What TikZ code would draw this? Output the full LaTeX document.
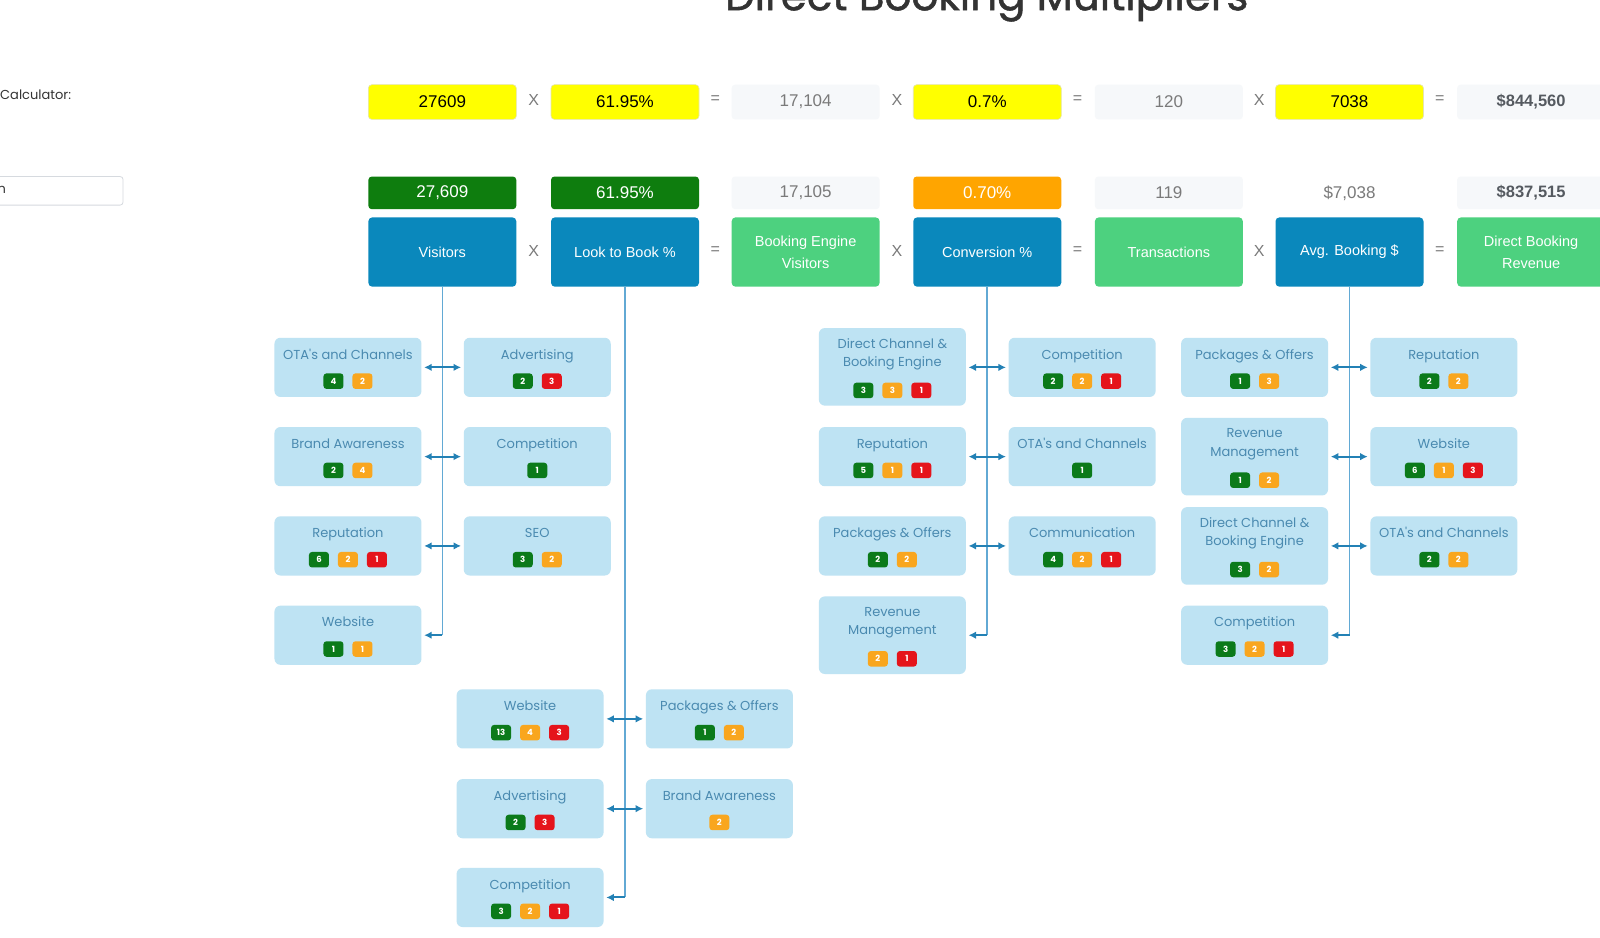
\documentclass[tikz,border=0pt]{standalone}
\usepackage{fontspec}
\setmainfont{Liberation Sans}
\newfontfamily\pop{Poppins}
\newfontfamily\popt[FakeBold=1.2]{Poppins}
\usetikzlibrary{arrows.meta,calc}
\definecolor{boxblue}{HTML}{0A88BC}
\definecolor{boxgreen}{HTML}{4DD17F}
\definecolor{darkgreen}{HTML}{0E7D0E}
\definecolor{orangebox}{HTML}{FFA500}
\definecolor{yellowbox}{HTML}{FFFF00}
\definecolor{yellowline}{HTML}{E4E4B0}
\definecolor{grayfill}{HTML}{F6F8FA}
\definecolor{graytext}{HTML}{7A7A7A}
\definecolor{boldgray}{HTML}{555A60}
\definecolor{lightbox}{HTML}{BEE3F3}
\definecolor{lighttext}{HTML}{4A8AB0}
\definecolor{trunkc}{HTML}{62A9D4}
\definecolor{arrowc}{HTML}{2381B5}
\definecolor{bg}{HTML}{0B7A1A}
\definecolor{bo}{HTML}{F9A61E}
\definecolor{br}{HTML}{E5141B}
\definecolor{titlec}{HTML}{333333}
\definecolor{inputline}{HTML}{D6DADF}
\tikzset{
  topbox/.style={minimum width=148pt, minimum height=34.7pt, rounded corners=3.5pt, inner sep=0pt, font=\fontsize{17}{20}\selectfont},
  yel/.style={topbox, fill=yellowbox, draw=yellowline, line width=0.6pt, text=black},
  grayv/.style={topbox, fill=grayfill, text=graytext},
  grayb/.style={topbox, fill=grayfill, text=boldgray, font=\bfseries\fontsize{16.5}{20}\selectfont},
  rowtwo/.style={minimum height=32.7pt},
  bigbox/.style={minimum width=148pt, minimum height=69.4pt, rounded corners=4pt, inner sep=0pt, text=white, font=\fontsize{14.5}{22.4}\selectfont, align=center},
  signc/.style={text=graytext, inner sep=0pt, font=\fontsize{16}{20}\selectfont},
  sbox/.style={fill=lightbox, rounded corners=6pt, minimum width=147pt, minimum height=59.2pt, inner sep=0pt},
  dbox/.style={sbox, minimum height=77.6pt},
  stitle/.style={text=lighttext, font=\pop\fontsize{13}{18.4}\selectfont, align=center, inner sep=0pt, text height=9.5pt, text depth=2.5pt},
  dtitle/.style={text=lighttext, font=\pop\fontsize{13}{18.4}\selectfont, align=center, inner sep=0pt},
  badge/.style={rounded corners=3pt, minimum width=20pt, minimum height=15.5pt, inner xsep=4.5pt, inner ysep=0pt, text=white, text height=6.2pt, text depth=0pt, font=\pop\bfseries\fontsize{8.5}{9}\selectfont},
  trunkline/.style={draw=trunkc, line width=1.6pt},
  biarrow/.style={draw=arrowc, line width=2pt, {Latex[length=7.5pt,width=7.5pt]}-{Latex[length=7.5pt,width=7.5pt]}, shorten <=2.5pt, shorten >=2.5pt},
  larrow/.style={draw=arrowc, line width=2pt, -{Latex[length=7.5pt,width=7.5pt]}, shorten >=2.5pt},
}
% #1 name, #2 x, #3 y, #4 style, #5 title style, #6 title shift, #7 badge shift, #8 title, #9 list
\newcommand\mkbox[9]{%
  \node[#4] (#1) at (#2,#3) {};
  \node[#5] (#1-t) at ([yshift=#6]#1.center) {#8};
  \def\nbadge{0}%
  \foreach \c/\v [count=\i] in {#9} {\xdef\nbadge{\i}}%
  \foreach \c/\v [count=\i] in {#9} {
    \node[badge, fill=\c] (#1-b\i) at ([xshift={(\i-(\nbadge+1)/2)*29pt}, yshift=#7]#1.center) {\v};
  }
}
% #1 name, #2 x, #3 y, #4 title, #5 list
\newcommand\boxS[5]{\mkbox{#1}{#2}{#3}{sbox}{stitle}{11.8pt}{-13.8pt}{#4}{#5}}
\newcommand\boxD[5]{\mkbox{#1}{#2}{#3}{dbox}{dtitle}{12.6pt}{-23.6pt}{#4}{#5}}
\begin{document}
\begin{tikzpicture}[x=1.02041pt, y=-1.02041pt]
\useasboundingbox (0,0) rectangle (1568,918.26);
\fill[white] (0,0) rectangle (1568,918.26);
\clip (0,0) rectangle (1568,918.26);

% title and left panel
\node[font=\popt\fontsize{42}{50}\selectfont, text=titlec, anchor=base, inner sep=0pt] (title) at (967,10) {Direct Booking Multipliers};
\node[anchor=west, font=\pop\fontsize{13}{16}\selectfont, text=titlec, inner sep=0pt] (calc) at (0,93) {Calculator:};
\node[draw=inputline, fill=white, rounded corners=3pt, minimum width=200pt, minimum height=28.6pt, anchor=east, line width=0.8pt] (inp) at (121,187) {};
\node[anchor=west, font=\pop\fontsize{13}{16}\selectfont, text=titlec, inner sep=0pt] (inptext) at (-2.5,186) {n};

% row 1: calculator
\node[yel] (r1a) at (433.5,100) {27609};
\node[signc] (s1a) at (523,98) {X};
\node[yel] (r1b) at (612.5,100) {61.95\%};
\node[signc] (s1b) at (701,98) {=};
\node[grayv] (r1c) at (789.5,100) {17,104};
\node[signc] (s1c) at (879,98) {X};
\node[yel] (r1d) at (967.5,100) {0.7\%};
\node[signc] (s1d) at (1056,98) {=};
\node[grayv] (r1e) at (1145.5,100) {120};
\node[signc] (s1e) at (1234,98) {X};
\node[yel] (r1f) at (1322.5,100) {7038};
\node[signc] (s1f) at (1411,98) {=};
\node[grayb] (r1g) at (1500.5,100) {\$844,560};

% row 2: values
\node[topbox, rowtwo, fill=darkgreen, text=white] (r2a) at (433.5,189) {27,609};
\node[topbox, rowtwo, fill=darkgreen, text=white] (r2b) at (612.5,189) {61.95\%};
\node[grayv, rowtwo] (r2c) at (789.5,189) {17,105};
\node[topbox, rowtwo, fill=orangebox, text=white] (r2d) at (967.5,189) {0.70\%};
\node[grayv, rowtwo] (r2e) at (1145.5,189) {119};
\node[topbox, rowtwo, text=graytext] (r2f) at (1322.5,189) {\$7,038};
\node[grayb, rowtwo] (r2g) at (1500.5,189) {\$837,515};

% row 3: factors
\node[bigbox, fill=boxblue] (visitors) at (433.5,247) {Visitors};
\node[signc] (s3a) at (523,246) {X};
\node[bigbox, fill=boxblue] (ltb) at (612.5,247) {Look to Book \%};
\node[signc] (s3b) at (701,246) {=};
\node[bigbox, fill=boxgreen] (bev) at (789.5,247) {Booking Engine\\Visitors};
\node[signc] (s3c) at (879,246) {X};
\node[bigbox, fill=boxblue] (conv) at (967.5,247) {Conversion \%};
\node[signc] (s3d) at (1056,246) {=};
\node[bigbox, fill=boxgreen] (trans) at (1145.5,247) {Transactions};
\node[signc] (s3e) at (1234,246) {X};
\node[bigbox, fill=boxblue] (avg) at (1322.5,247) {Avg. Booking \$};
\node[signc] (s3f) at (1411,246) {=};
\node[bigbox, fill=boxgreen] (dbr) at (1500.5,247) {Direct Booking\\Revenue};

% column 1: Visitors
\boxS{c1l1}{341}{360}{OTA's and Channels}{bg/4,bo/2}
\boxS{c1r1}{526.5}{360}{Advertising}{bg/2,br/3}
\boxS{c1l2}{341}{447.5}{Brand Awareness}{bg/2,bo/4}
\boxS{c1r2}{526.5}{447.5}{Competition}{bg/1}
\boxS{c1l3}{341}{535}{Reputation}{bg/6,bo/2,br/1}
\boxS{c1r3}{526.5}{535}{SEO}{bg/3,bo/2}
\boxS{c1l4}{341}{622.5}{Website}{bg/1,bo/1}

% column 2: Look to Book
\boxS{c2l1}{519.5}{704.5}{Website}{bg/13,bo/4,br/3}
\boxS{c2r1}{705}{704.5}{Packages \& Offers}{bg/1,bo/2}
\boxS{c2l2}{519.5}{792.5}{Advertising}{bg/2,br/3}
\boxS{c2r2}{705}{792.5}{Brand Awareness}{bo/2}
\boxS{c2l3}{519.5}{879.5}{Competition}{bg/3,bo/2,br/1}

% column 3: Conversion
\boxD{c3l1}{874.5}{359.5}{Direct Channel \&\\Booking Engine}{bg/3,bo/3,br/1}
\boxS{c3r1}{1060.5}{360}{Competition}{bg/2,bo/2,br/1}
\boxS{c3l2}{874.5}{447.5}{Reputation}{bg/5,bo/1,br/1}
\boxS{c3r2}{1060.5}{447.5}{OTA's and Channels}{bg/1}
\boxS{c3l3}{874.5}{535}{Packages \& Offers}{bg/2,bo/2}
\boxS{c3r3}{1060.5}{535}{Communication}{bg/4,bo/2,br/1}
\boxD{c3l4}{874.5}{622.5}{Revenue\\Management}{bo/2,br/1}

% column 4: Avg booking
\boxS{c4l1}{1229.5}{360}{Packages \& Offers}{bg/1,bo/3}
\boxS{c4r1}{1415}{360}{Reputation}{bg/2,bo/2}
\boxD{c4l2}{1229.5}{447.5}{Revenue\\Management}{bg/1,bo/2}
\boxS{c4r2}{1415}{447.5}{Website}{bg/6,bo/1,br/3}
\boxD{c4l3}{1229.5}{535}{Direct Channel \&\\Booking Engine}{bg/3,bo/2}
\boxS{c4r3}{1415}{535}{OTA's and Channels}{bg/2,bo/2}
\boxS{c4l4}{1229.5}{622.5}{Competition}{bg/3,bo/2,br/1}

% trunks
\coordinate (t1) at (visitors.south |- c1l4.east);
\coordinate (t2) at (ltb.south |- c2l3.east);
\coordinate (t3) at (conv.south |- c3l4.east);
\coordinate (t4) at (avg.south |- c4l4.east);
\draw[trunkline] (visitors.south) -- (t1);
\draw[trunkline] (ltb.south) -- (t2);
\draw[trunkline] (conv.south) -- (t3);
\draw[trunkline] (avg.south) -- (t4);

% arrows
\draw[biarrow] (c1l1.east) -- (c1r1.west);
\draw[biarrow] (c1l2.east) -- (c1r2.west);
\draw[biarrow] (c1l3.east) -- (c1r3.west);
\draw[larrow] (t1) -- (c1l4.east);
\draw[biarrow] (c2l1.east) -- (c2r1.west);
\draw[biarrow] (c2l2.east) -- (c2r2.west);
\draw[larrow] (t2) -- (c2l3.east);
\draw[biarrow] (c3l1.east |- c3r1.west) -- (c3r1.west);
\draw[biarrow] (c3l2.east) -- (c3r2.west);
\draw[biarrow] (c3l3.east) -- (c3r3.west);
\draw[larrow] (t3) -- (c3l4.east);
\draw[biarrow] (c4l1.east) -- (c4r1.west);
\draw[biarrow] (c4l2.east) -- (c4r2.west);
\draw[biarrow] (c4l3.east) -- (c4r3.west);
\draw[larrow] (t4) -- (c4l4.east);
\end{tikzpicture}
\end{document}
